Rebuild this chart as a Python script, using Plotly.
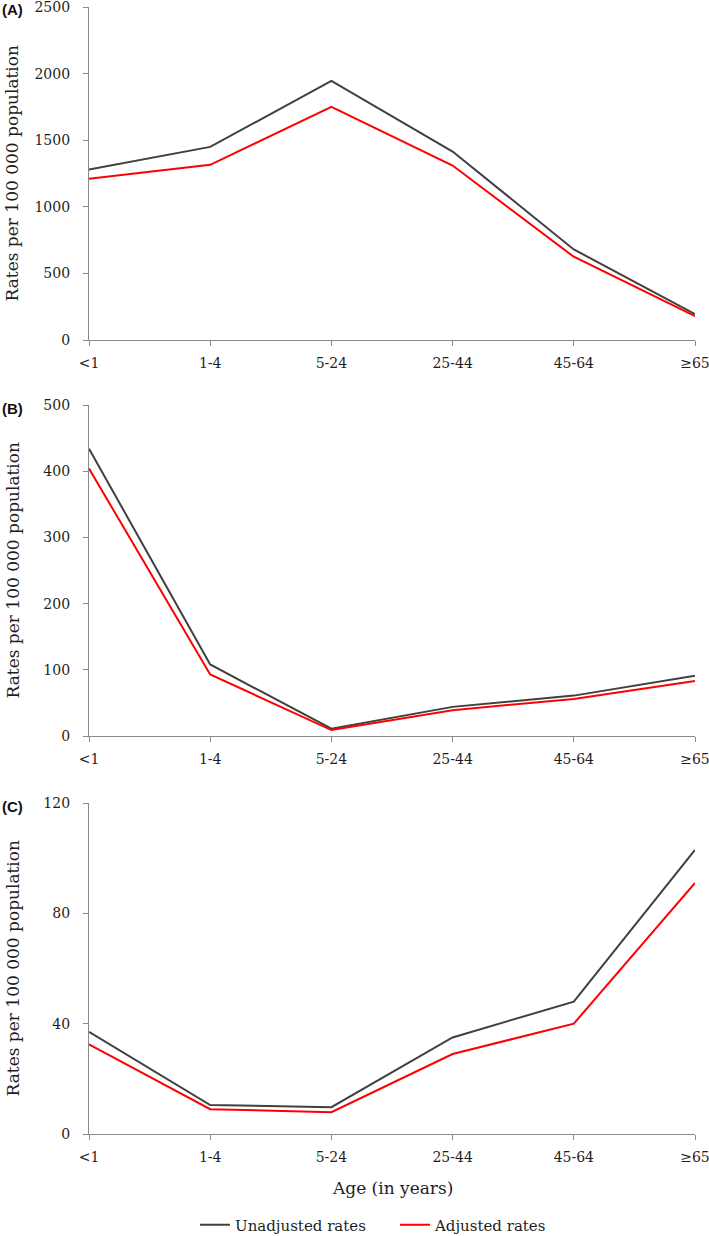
import plotly.graph_objects as go

categories = ["<1", "1-4", "5-24", "25-44", "45-64", "≥65"]

a_unadj = [1280, 1450, 1945, 1415, 680, 195]
a_adj = [1210, 1315, 1750, 1310, 625, 180]

b_unadj = [434, 108, 11, 44, 61, 91]
b_adj = [404, 93, 9, 39, 56, 83]

c_unadj = [37, 10.5, 9.7, 35, 48, 103]
c_adj = [32.5, 9.0, 7.9, 29, 40, 91]

y_ticks_a = [0, 500, 1000, 1500, 2000, 2500]
y_ticks_b = [0, 100, 200, 300, 400, 500]
y_ticks_c = [0, 40, 80, 120]

panel_labels = ["(A)", "(B)", "(C)"]
series_names = ["Unadjusted rates", "Adjusted rates"]
y_title = "Rates per 100 000 population"
x_title = "Age (in years)"

W, H = 709, 1236
BLACK = "#404040"
RED = "#ff0000"
AXIS = "#8a8a8a"
FONT = "DejaVu Serif"
TXT = "#1e1e1e"


def px(x):
    return x / W


def py(y):
    return 1 - y / H


xi = list(range(len(categories)))

panels = [
    (a_unadj, a_adj, y_ticks_a, (7, 340)),
    (b_unadj, b_adj, y_ticks_b, (405, 736)),
    (c_unadj, c_adj, y_ticks_c, (803, 1134)),
]

fig = go.Figure()
x_dom = [px(89), px(695)]

for i, (u, a, yt, (top, bot)) in enumerate(panels):
    n = "" if i == 0 else str(i + 1)
    xa = "x" + n
    ya = "y" + n
    fig.add_trace(go.Scatter(x=xi, y=u, mode="lines", name=series_names[0],
                             line=dict(color=BLACK, width=2), xaxis=xa, yaxis=ya,
                             showlegend=(i == 0)))
    fig.add_trace(go.Scatter(x=xi, y=a, mode="lines", name=series_names[1],
                             line=dict(color=RED, width=2), xaxis=xa, yaxis=ya,
                             showlegend=(i == 0)))
    dom = [py(bot), py(top)]
    fig.layout["xaxis" + n] = dict(
        domain=x_dom, anchor=ya, range=[0, 5], tickvals=xi, ticktext=categories,
        showline=True, linecolor=AXIS, linewidth=1.3, ticks="outside", ticklen=5,
        tickcolor=AXIS, tickwidth=1, showgrid=False, zeroline=False,
        tickfont=dict(family=FONT, size=14, color=TXT), ticklabelstandoff=5,
        fixedrange=True, automargin=False, ticklabeloverflow="allow",
    )
    fig.layout["yaxis" + n] = dict(
        domain=dom, anchor=xa, range=[0, yt[-1]], tickvals=yt,
        showline=True, linecolor=AXIS, linewidth=1.3, ticks="outside", ticklen=5,
        tickcolor=AXIS, tickwidth=1, showgrid=False, zeroline=False,
        tickfont=dict(family=FONT, size=14, color=TXT), ticklabelstandoff=10,
        fixedrange=True, automargin=False, ticklabeloverflow="allow",
    )
    fig.add_annotation(text=y_title, textangle=-90, xref="paper", yref="paper",
                       x=px(12), y=py((top + bot) / 2), xanchor="center",
                       yanchor="middle", showarrow=False,
                       font=dict(family=FONT, size=17, color=TXT))
    fig.add_annotation(text="<b>" + panel_labels[i] + "</b>", xref="paper", yref="paper",
                       x=px(0), y=py(top + 3), xanchor="left", yanchor="middle",
                       showarrow=False,
                       font=dict(family="Liberation Sans", size=15, color="#111"))

fig.add_annotation(text=x_title, xref="paper", yref="paper", x=px(392), y=py(1188),
                   xanchor="center", yanchor="middle", showarrow=False,
                   font=dict(family=FONT, size=17, color=TXT))

fig.update_layout(
    width=W, height=H, margin=dict(l=0, r=0, t=0, b=0, autoexpand=False),
    paper_bgcolor="white", plot_bgcolor="white",
    legend=dict(orientation="h", x=px(195), y=py(1225), xanchor="left",
                yanchor="middle", font=dict(family=FONT, size=15, color=TXT),
                bgcolor="rgba(0,0,0,0)", entrywidth=155, itemwidth=30),
    showlegend=True,
)

fig.write_html("out.html", config={"displayModeBar": False},
               post_script="document.body.style.margin='0px';")
